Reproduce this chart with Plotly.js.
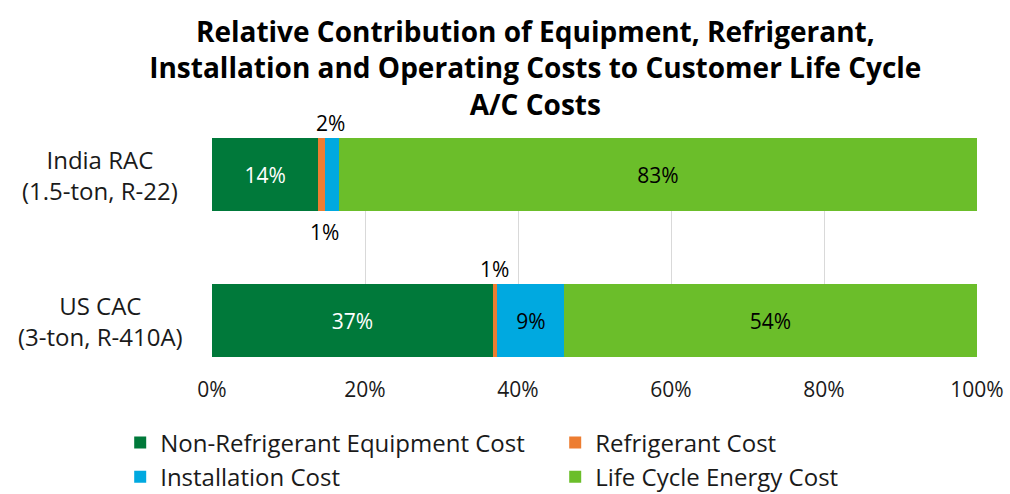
<!DOCTYPE html>
<html>
<head>
<meta charset="utf-8">
<script src="https://cdn.plot.ly/plotly-3.0.1.min.js"></script>
<style>html,body{margin:0;padding:0;background:#fff;}#chart{width:1010px;height:494px;}</style>
</head>
<body>
<div id="chart"></div>
<script>
var categories = ["India RAC<br>(1.5-ton, R-22)", "US CAC<br>(3-ton, R-410A)"];
var seriesNames = ["Non-Refrigerant Equipment Cost", "Refrigerant Cost", "Installation Cost", "Life Cycle Energy Cost"];
var equipment = [13.9, 36.7];
var refrigerant = [0.87, 0.6];
var installation = [1.83, 8.76];
var energy = [83.4, 53.9];
var xTicks = [0, 20, 40, 60, 80, 100];
var xTickLabels = ["0%", "20%", "40%", "60%", "80%", "100%"];
// where each series' data label sits: inside the bar, or above/below it
var equipmentLabelPos = ["inside", "inside"];
var refrigerantLabelPos = ["below", "above"];
var installationLabelPos = ["above", "inside"];
var energyLabelPos = ["inside", "inside"];

var colors = ["#00793A", "#ED7D31", "#00A9E0", "#6BBE2A"];
var labelColors = ["#ffffff", "#000000", "#000000", "#000000"];
var FONT = "Open Sans, sans-serif";

var series = [equipment, refrigerant, installation, energy];
var positions = [equipmentLabelPos, refrigerantLabelPos, installationLabelPos, energyLabelPos];
var yIdx = categories.map(function(c, i){ return i; });

var traces = series.map(function(vals, s){
  return {
    type: "bar",
    orientation: "h",
    name: seriesNames[s],
    x: vals,
    y: yIdx,
    marker: {color: colors[s], line: {width: 0}},
    text: vals.map(function(v, i){ return positions[s][i] === "inside" ? Math.round(v) + "%" : ""; }),
    textposition: "inside",
    insidetextanchor: "middle",
    textangle: 0,
    textfont: {family: FONT, size: 21, color: labelColors[s]},
    hoverinfo: "skip",
    cliponaxis: false
  };
});

var annotations = [];
// outside data labels for thin segments
series.forEach(function(vals, s){
  vals.forEach(function(v, i){
    var pos = positions[s][i];
    if (pos === "inside") return;
    var start = 0;
    for (var k = 0; k < s; k++) start += series[k][i];
    annotations.push({
      x: start + v / 2, y: i, xref: "x", yref: "y",
      text: Math.round(v) + "%", showarrow: false,
      yshift: pos === "above" ? 52 : -57,
      xshift: pos === "above" ? -1 : 3,
      font: {family: FONT, size: 21, color: "#000"}
    });
  });
});
// category labels, centred
categories.forEach(function(c, i){
  annotations.push({
    x: -0.146, y: i, xref: "paper", yref: "y", xanchor: "center", yanchor: "middle",
    text: c, align: "center", showarrow: false,
    font: {family: FONT, size: 24, color: "#1a1a1a"}
  });
});

var layout = {
  width: 1010, height: 494,
  paper_bgcolor: "#fff", plot_bgcolor: "#fff",
  margin: {l: 212, r: 33, t: 138, b: 137, autoexpand: false},
  barmode: "stack",
  bargap: 0.5,
  showlegend: true,
  title: {
    text: "<b>Relative Contribution of Equipment, Refrigerant,<br>Installation and Operating Costs to Customer Life Cycle<br>A/C Costs</b>",
    font: {family: FONT, size: 28, color: "#000"},
    x: 0.53, xanchor: "center", xref: "container",
    y: 0.915, yanchor: "top", yref: "container"
  },
  xaxis: {
    range: [0, 100], tickvals: xTicks, ticktext: xTickLabels,
    showgrid: true, gridcolor: "#D9D9D9", gridwidth: 1,
    zeroline: false, showline: false, ticks: "",
    ticklabelstandoff: 18,
    tickfont: {family: FONT, size: 21, color: "#1a1a1a"},
    fixedrange: true
  },
  yaxis: {
    range: [1.25, -0.25], showticklabels: false, showgrid: false,
    zeroline: false, showline: false, ticks: "", fixedrange: true
  },
  legend: {
    orientation: "h", x: -0.12, xanchor: "left", y: -0.29, yanchor: "top",
    entrywidth: 390, entrywidthmode: "pixels",
    font: {family: FONT, size: 24, color: "#1a1a1a"},
    traceorder: "normal", itemclick: false, itemdoubleclick: false,
    tracegroupgap: 0
  },
  annotations: annotations
};

Plotly.newPlot("chart", traces, layout, {displayModeBar: false, staticPlot: true});
</script>
</body>
</html>
